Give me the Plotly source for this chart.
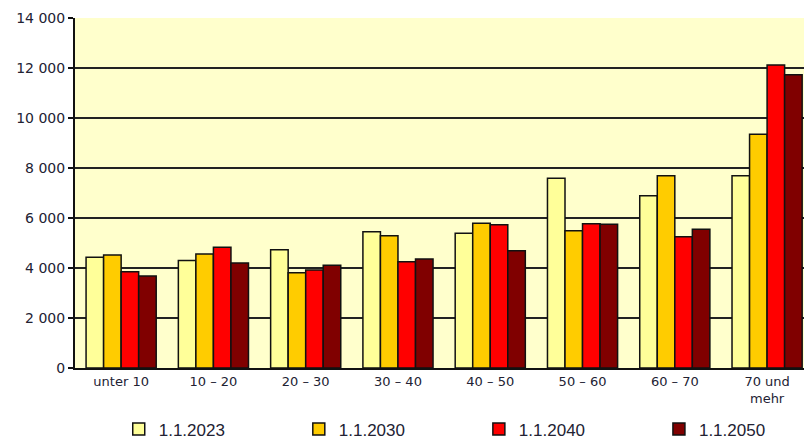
import plotly.graph_objects as go

categories = ["unter 10", "10 – 20", "20 – 30", "30 – 40", "40 – 50", "50 – 60", "60 – 70", "70 und<br>mehr"]
v2023 = [4430, 4300, 4730, 5450, 5390, 7590, 6890, 7690]
v2030 = [4520, 4560, 3810, 5290, 5790, 5490, 7690, 9350]
v2040 = [3850, 4830, 3920, 4250, 5730, 5770, 5250, 12120]
v2050 = [3680, 4200, 4110, 4360, 4690, 5750, 5550, 11730]
series_names = ["1.1.2023", "1.1.2030", "1.1.2040", "1.1.2050"]
series_colors = ["#FFFF99", "#FFCC00", "#FF0000", "#800000"]
ytick_vals = [0, 2000, 4000, 6000, 8000, 10000, 12000, 14000]
ytick_text = ["0", "2 000", "4 000", "6 000", "8 000", "10 000", "12 000", "14 000"]

legend_ids = ["legend", "legend2", "legend3", "legend4"]
legend_x = [0.060, 0.307, 0.554, 0.801]

fig = go.Figure()
for name, vals, col, lid in zip(series_names, [v2023, v2030, v2040, v2050], series_colors, legend_ids):
    fig.add_trace(go.Bar(
        x=list(range(len(categories))), y=vals, name=name, legend=lid,
        marker=dict(color=col, line=dict(color="#111111", width=1.5)),
    ))

legend_style = dict(
    orientation="h",
    yref="container",
    y=0.035, yanchor="middle", xanchor="left",
    font=dict(family="Liberation Sans, Arial", size=17, color="#222233"),
    itemwidth=30,
    bgcolor="rgba(0,0,0,0)",
)
layout_legends = {lid: dict(legend_style, x=lx) for lid, lx in zip(legend_ids, legend_x)}

fig.update_layout(
    width=804, height=445,
    margin=dict(l=75, r=0, t=18, b=77),
    paper_bgcolor="white",
    plot_bgcolor="#FFFFCC",
    barmode="group",
    bargap=0.24,
    bargroupgap=0,
    showlegend=True,
    xaxis=dict(
        tickmode="array",
        tickvals=list(range(len(categories))),
        ticktext=categories,
        range=[-0.5, 7.4],
        showline=True, linecolor="#111111", linewidth=2,
        ticks="", showgrid=False, automargin=False,
        tickfont=dict(family="DejaVu Sans", size=13, color="#222233"),
    ),
    yaxis=dict(
        range=[0, 14000],
        tickmode="array", tickvals=ytick_vals, ticktext=ytick_text,
        showline=True, linecolor="#111111", linewidth=2,
        ticks="outside", ticklen=5, tickcolor="#111111", tickwidth=1.5,
        showgrid=True, gridcolor="#222222", gridwidth=1.5,
        zeroline=False, automargin=False,
        tickfont=dict(family="DejaVu Sans", size=14, color="#222233"),
    ),
    **layout_legends,
)

fig.write_html("out.html", config={"displayModeBar": False},
               post_script="document.body.style.margin='0px';")
